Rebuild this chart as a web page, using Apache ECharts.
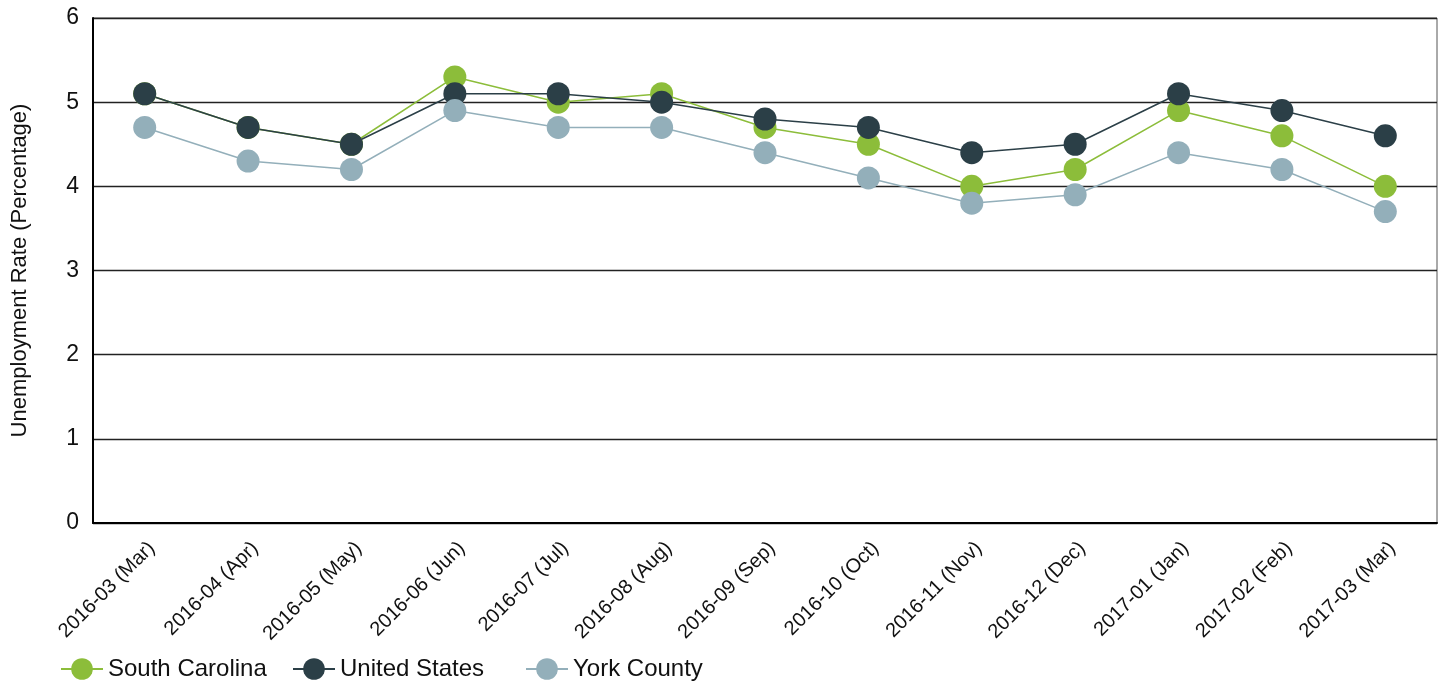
<!DOCTYPE html>
<html>
<head>
<meta charset="utf-8">
<script src="https://cdn.jsdelivr.net/npm/echarts@6/dist/echarts.min.js"></script>
<style>
html,body{margin:0;padding:0;background:#fff;}
#chart{width:1443px;height:686px;}
</style>
</head>
<body>
<div id="chart"></div>
<script>
var categories = ["2016-03 (Mar)","2016-04 (Apr)","2016-05 (May)","2016-06 (Jun)","2016-07 (Jul)","2016-08 (Aug)","2016-09 (Sep)","2016-10 (Oct)","2016-11 (Nov)","2016-12 (Dec)","2017-01 (Jan)","2017-02 (Feb)","2017-03 (Mar)"];
var southCarolina = [5.1, 4.7, 4.5, 5.3, 5.0, 5.1, 4.7, 4.5, 4.0, 4.2, 4.9, 4.6, 4.0];
var unitedStates = [5.1, 4.7, 4.5, 5.1, 5.1, 5.0, 4.8, 4.7, 4.4, 4.5, 5.1, 4.9, 4.6];
var yorkCounty = [4.7, 4.3, 4.2, 4.9, 4.7, 4.7, 4.4, 4.1, 3.8, 3.9, 4.4, 4.2, 3.7];
var seriesNames = ['South Carolina', 'United States', 'York County'];
var yTicks = [0, 1, 2, 3, 4, 5, 6];

var font = "Liberation Sans, Arial, sans-serif";
var chart = echarts.init(document.getElementById('chart'));
function mk(name, data, color) {
  return {
    name: name, type: 'line', data: data,
    symbol: 'circle', symbolSize: 23,
    itemStyle: {color: color},
    lineStyle: {color: color, width: 1.5},
    emphasis: {disabled: true},
    animation: false
  };
}
function lg(name, left) {
  return {
    left: left, top: 652, itemWidth: 42, itemHeight: 27, itemGap: 20,
    textStyle: {fontFamily: font, fontSize: 24, color: '#111'},
    data: [name]
  };
}
chart.setOption({
  animation: false,
  textStyle: {fontFamily: font},
  grid: {left: 93, right: 6, top: 18, bottom: 163, show: true, borderColor: '#555', borderWidth: 1, outerBoundsMode: 'none', containLabel: false},
  legend: [lg(seriesNames[0], 55), lg(seriesNames[1], 287), lg(seriesNames[2], 520)],
  xAxis: {
    type: 'category', data: categories, boundaryGap: true,
    axisLine: {lineStyle: {color: '#000', width: 2}},
    axisTick: {show: false},
    axisLabel: {rotate: 45, fontSize: 20, color: '#111', fontFamily: font, margin: 15, interval: 0, verticalAlign: 'top'}
  },
  yAxis: {
    type: 'value', min: yTicks[0], max: yTicks[yTicks.length - 1], interval: 1,
    name: 'Unemployment Rate (Percentage)', nameLocation: 'middle', nameGap: 62,
    nameTextStyle: {fontSize: 22, color: '#111', fontFamily: font},
    axisLine: {show: true, lineStyle: {color: '#000', width: 2}},
    axisTick: {show: false},
    axisLabel: {fontSize: 23, color: '#111', fontFamily: font, margin: 14},
    splitLine: {lineStyle: {color: '#222', width: 1.3}}
  },
  series: [
    mk(seriesNames[0], southCarolina, '#8cbd3a'),
    mk(seriesNames[1], unitedStates, '#2b3f47'),
    mk(seriesNames[2], yorkCounty, '#93afba')
  ]
});
</script>
</body>
</html>
